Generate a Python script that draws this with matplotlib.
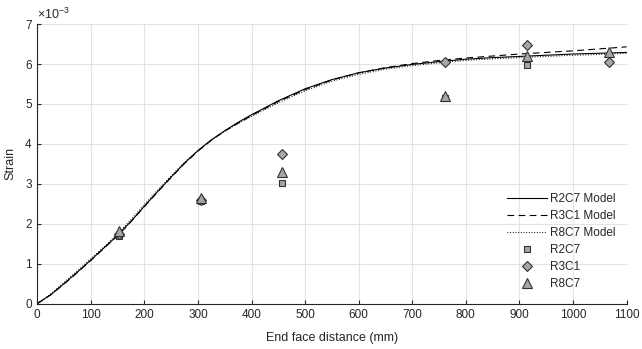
import numpy as np
from matplotlib import pyplot as plt

plt.rcParams['font.family'] = ['Liberation Sans', 'DejaVu Sans']
plt.rcParams['mathtext.fontset'] = 'custom'
plt.rcParams['mathtext.rm'] = 'Liberation Sans'
plt.rcParams['mathtext.it'] = 'Liberation Sans'

# model curves (strain x 1e-3) vs end face distance (mm)
dist_model = [0, 25, 50, 75, 100, 125, 150, 175, 200, 225, 250, 275, 300, 325, 350, 375, 400, 450,
              500, 550, 600, 650, 700, 750, 800, 850, 900, 950, 1000, 1050, 1100]
r2c7_model = [0, 0.22, 0.50, 0.79, 1.09, 1.40, 1.71, 2.06, 2.44, 2.81, 3.17, 3.52, 3.83, 4.10, 4.33,
              4.54, 4.73, 5.08, 5.38, 5.61, 5.78, 5.90, 5.99, 6.06, 6.12, 6.16, 6.19, 6.22, 6.25, 6.27, 6.29]
r3c1_model = [0, 0.22, 0.49, 0.78, 1.08, 1.39, 1.70, 2.05, 2.43, 2.80, 3.16, 3.51, 3.82, 4.09, 4.32,
              4.52, 4.71, 5.06, 5.36, 5.60, 5.78, 5.91, 6.01, 6.09, 6.15, 6.20, 6.25, 6.29, 6.33, 6.38, 6.43]
r8c7_model = [0, 0.24, 0.53, 0.82, 1.12, 1.43, 1.75, 2.10, 2.48, 2.85, 3.20, 3.54, 3.84, 4.10, 4.32,
              4.51, 4.69, 5.03, 5.33, 5.57, 5.74, 5.87, 5.96, 6.03, 6.09, 6.13, 6.16, 6.19, 6.22, 6.24, 6.27]

# measured (strain x 1e-3)
r2c7_x = [152.4, 304.8, 457.2, 762.0, 914.4]
r2c7_y = [1.69, 2.56, 3.01, 5.15, 5.98]
r3c1_x = [152.4, 304.8, 457.2, 762.0, 914.4, 1066.8]
r3c1_y = [1.75, 2.60, 3.75, 6.05, 6.48, 6.06]
r8c7_x = [152.4, 304.8, 457.2, 762.0, 914.4, 1066.8]
r8c7_y = [1.83, 2.64, 3.30, 5.19, 6.20, 6.31]

dark = '#262626'
fig = plt.figure(figsize=(6.42, 3.49), dpi=100)
ax = fig.add_axes([0.058, 0.130, 0.918, 0.801])

ax.plot(dist_model, r2c7_model, '-', color='k', lw=0.8, label='R2C7 Model')
ax.plot(dist_model, r3c1_model, '--', color='k', lw=0.8, dashes=(6, 4), label='R3C1 Model')
ax.plot(dist_model, r8c7_model, ':', color='k', lw=0.8, dashes=(0.8, 1.6), label='R8C7 Model')

mk = dict(linestyle='none', markerfacecolor='#a6a6a6', markeredgecolor='#333333', markeredgewidth=0.8)
ax.plot(r2c7_x, r2c7_y, marker='s', markersize=4.7, label='R2C7', **mk)
ax.plot(r3c1_x, r3c1_y, marker='D', markersize=5.3, label='R3C1', **mk)
ax.plot(r8c7_x, r8c7_y, marker='^', markersize=6.5, label='R8C7', **mk)

ax.set_xlim(0, 1100)
ax.set_ylim(0, 7)
ax.set_xticks(np.arange(0, 1101, 100))
ax.set_yticks(np.arange(0, 8, 1))
ax.grid(True, color='#e3e3e3', lw=0.8)
ax.set_axisbelow(True)
for s in ['top', 'right']:
    ax.spines[s].set_visible(False)
for s in ['left', 'bottom']:
    ax.spines[s].set_color(dark)
    ax.spines[s].set_linewidth(0.8)
ax.tick_params(direction='in', length=3, width=0.8, colors=dark, labelsize=8.5, pad=4)

ax.set_xlabel('End face distance (mm)', fontsize=9, color=dark, labelpad=8)
ax.set_ylabel('Strain', fontsize=9, color=dark, labelpad=6)
ax.text(0.0, 1.008, r'$\times10^{-3}$', transform=ax.transAxes, fontsize=9,
        color=dark, ha='left', va='bottom')

leg = ax.legend(loc='lower right', frameon=False, fontsize=8.5, handlelength=3.4,
                labelspacing=0.42, handletextpad=0.3, bbox_to_anchor=(1.0, 0.01))
for t in leg.get_texts():
    t.set_color(dark)

fig.savefig('out.png', dpi=100)
